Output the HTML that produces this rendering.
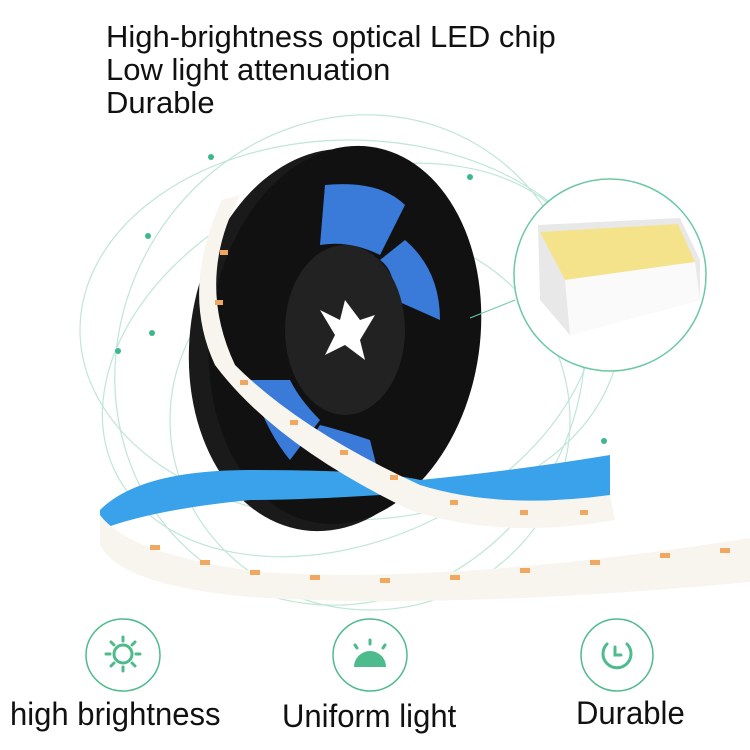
<!DOCTYPE html>
<html><head><style>
body{margin:0;width:750px;height:750px;background:#fff;overflow:hidden;font-family:"Liberation Sans",sans-serif}
.t{position:absolute;left:106px;font-size:31px;color:#111;line-height:33px}
.l{position:absolute;font-size:32px;color:#111;transform:scaleX(0.97);transform-origin:left}
</style></head><body>
<div class="t" style="top:20px">High-brightness optical LED chip<br>Low light attenuation<br>Durable</div>
<svg width="750" height="750" style="position:absolute;left:0;top:0">
<g fill="none" stroke="#bfe6d6" stroke-width="1.2">
<ellipse cx="350" cy="330" rx="270" ry="190"/>
<ellipse cx="350" cy="360" rx="230" ry="250" transform="rotate(30 350 360)"/>
<ellipse cx="350" cy="360" rx="260" ry="180" transform="rotate(-25 350 360)"/>
<ellipse cx="370" cy="420" rx="200" ry="190"/>
</g>
<g fill="#3db88a"><circle cx="211" cy="157" r="3"/><circle cx="148" cy="236" r="3"/><circle cx="152" cy="333" r="3"/><circle cx="470" cy="177" r="3"/><circle cx="604" cy="441" r="3"/><circle cx="118" cy="351" r="3"/><circle cx="470" cy="318" r="3"/></g>
<ellipse cx="330" cy="340" rx="140" ry="192" fill="#1a1a1a" transform="rotate(8 330 340)"/>
<ellipse cx="345" cy="335" rx="135" ry="190" fill="#111" transform="rotate(8 345 335)"/>
<path d="M325 185 Q380 180 405 205 L380 255 Q350 240 320 245Z" fill="#3a7ad8"/>
<path d="M405 240 Q440 270 440 320 L395 300 Q395 270 380 260Z" fill="#3a7ad8"/>
<path d="M250 380 Q265 430 290 460 L320 420 Q300 400 290 380Z" fill="#3a7ad8"/>
<path d="M310 440 Q350 480 380 480 L370 440 Q340 430 320 425Z" fill="#3a7ad8"/>
<ellipse cx="345" cy="330" rx="60" ry="85" fill="#222"/>
<path d="M320 310 L340 320 L345 300 L360 320 L375 315 L360 340 L365 360 L345 345 L325 355 L335 335Z" fill="#fff"/>
<path d="M100 510 Q140 470 250 470 Q380 470 420 480 Q520 470 610 455 L610 500 Q560 520 500 520 Q420 500 380 495 Q300 500 250 500 Q150 510 100 530Z" fill="#3aa2ea"/>
<path d="M240 195 Q195 280 235 365 Q300 430 420 485 Q500 510 610 495 L615 520 Q500 540 410 510 Q275 445 215 365 Q180 290 222 200Z" fill="#f8f5ee"/>
<path d="M100 515 Q130 555 260 572 Q450 585 750 538 L750 582 Q450 610 250 597 Q120 585 100 545Z" fill="#f8f5ee"/>
<g fill="#f0a860"><rect x="150" y="545" width="10" height="5"/><rect x="200" y="560" width="10" height="5"/><rect x="250" y="570" width="10" height="5"/><rect x="310" y="575" width="10" height="5"/><rect x="380" y="578" width="10" height="5"/><rect x="450" y="575" width="10" height="5"/><rect x="520" y="568" width="10" height="5"/><rect x="590" y="560" width="10" height="5"/><rect x="660" y="553" width="10" height="5"/><rect x="720" y="548" width="10" height="5"/>
<rect x="240" y="380" width="8" height="5"/><rect x="290" y="420" width="8" height="5"/><rect x="340" y="450" width="8" height="5"/><rect x="390" y="475" width="8" height="5"/><rect x="450" y="500" width="8" height="5"/><rect x="520" y="510" width="8" height="5"/><rect x="580" y="510" width="8" height="5"/><rect x="215" y="300" width="8" height="5"/><rect x="220" y="250" width="8" height="5"/></g>
<circle cx="610" cy="275" r="96" fill="#fff" stroke="#6cc9a3" stroke-width="1.5"/>
<line x1="470" y1="318" x2="515" y2="300" stroke="#6cc9a3"/>
<path d="M538 225 L680 218 L700 260 L700 300 L570 335 L540 300Z" fill="#e8e8e8"/>
<path d="M540 232 L678 224 L695 262 L565 280Z" fill="#f5e38c"/>
<path d="M565 280 L695 262 L700 300 L570 335Z" fill="#fafafa"/>
<g fill="none" stroke="#4dbb8c" stroke-width="1.5"><ellipse cx="123" cy="655" rx="37" ry="36"/><ellipse cx="370" cy="655" rx="37" ry="36"/><ellipse cx="617" cy="655" rx="36" ry="36"/></g>
<g stroke="#4dbb8c" stroke-width="3" fill="none" stroke-linecap="round">
<circle cx="123" cy="654" r="9"/>
<path d="M123 637v4M123 667v4M106 654h4M136 654h4M111 642l3 3M132 663l3 3M135 642l-3 3M114 663l-3 3"/>
<path d="M370 640v4M357 648l-2 -3M383 648l2 -3"/>
<path d="M607 644 A14 14 0 1 0 627 644"/><path d="M615 647v8h6"/>
</g>
<path d="M354 667 A16 16 0 0 1 386 667Z" fill="#4dbb8c"/>
</svg>
<div class="l" style="left:10px;top:696px">high brightness</div>
<div class="l" style="left:282px;top:698px">Uniform light</div>
<div class="l" style="left:576px;top:695px">Durable</div>
</body></html>
